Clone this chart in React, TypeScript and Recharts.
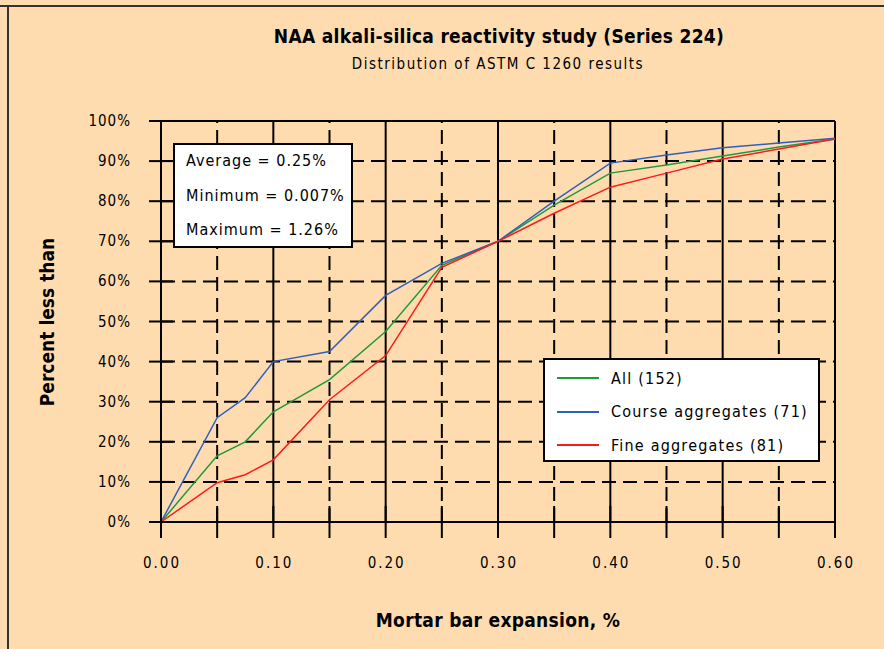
import React from "react";
import { Legend, Line, LineChart, ReferenceLine, XAxis, YAxis } from "recharts";

// ASTM C 1260 cumulative distribution
const expansion = [0, 0.05, 0.075, 0.1, 0.15, 0.2, 0.25, 0.3, 0.35, 0.4, 0.45, 0.5, 0.55, 0.6];
const allAgg = [0, 16.5, 20, 27.5, 35.5, 47.5, 64, 70, 79, 87, 89, 91.3, 93.5, 95.5];
const courseAgg = [0, 26, 31, 40, 42.5, 56.5, 64.5, 70, 80, 89.5, 91.5, 93.3, 94.5, 95.7];
const fineAgg = [0, 9.8, 11.8, 15.5, 30.5, 41.5, 63.5, 70, 77, 83.5, 87, 90.5, 93, 95.5];

const xTicks = [0, 0.05, 0.1, 0.15, 0.2, 0.25, 0.3, 0.35, 0.4, 0.45, 0.5, 0.55, 0.6];
const xLabels = ["0.00", "", "0.10", "", "0.20", "", "0.30", "", "0.40", "", "0.50", "", "0.60"];
const xMajor = [0.1, 0.2, 0.3, 0.4, 0.5, 0.6];
const xMinor = [0.05, 0.15, 0.25, 0.35, 0.45, 0.55];
const yTicks = [0, 10, 20, 30, 40, 50, 60, 70, 80, 90, 100];
const yDashed = [10, 20, 30, 40, 50, 60, 70, 80, 90];

const statLines = ["Average = 0.25%", "Minimum = 0.007%", "Maximum = 1.26%"];

const series = [
  { key: "all", name: "All (152)", color: "#1f9a3c" },
  { key: "course", name: "Course aggregates (71)", color: "#2f5fc0" },
  { key: "fine", name: "Fine aggregates (81)", color: "#ff1a1a" },
];

const data = expansion.map((x, i) => ({
  x,
  all: allAgg[i],
  course: courseAgg[i],
  fine: fineAgg[i],
}));

const FONT = '"DejaVu Sans Condensed", "DejaVu Sans", sans-serif';
const BG = "#ffdcb0";

function XTick(props: any) {
  const { x, y, index } = props;
  const label = xLabels[index] ?? "";
  return (
    <g>
      <line x1={x} x2={x} y1={y - 16} y2={y + 16} stroke="#000" strokeWidth={2} />
      {label && (
        <text x={x + 1} y={y + 46} textAnchor="middle" fontFamily={FONT} fontSize={15} letterSpacing={2} fill="#000">
          {label}
        </text>
      )}
    </g>
  );
}

function YTick(props: any) {
  const { x, y, payload } = props;
  return (
    <g>
      <line x1={x - 12} x2={x + 12} y1={y} y2={y} stroke="#000" strokeWidth={2} />
      <text x={x - 30} y={y + 5} textAnchor="end" fontFamily={FONT} fontSize={15} letterSpacing={1} fill="#000">
        {`${payload.value}%`}
      </text>
    </g>
  );
}

function LegendBox() {
  return (
    <div
      style={{
        width: 273,
        height: 100,
        background: "#fff",
        border: "2px solid #000",
        boxSizing: "content-box",
        position: "relative",
      }}
    >
      {series.map((s, i) => (
        <div
          key={s.key}
          style={{ position: "absolute", left: 12, top: 6 + i * 33.5, height: 24, display: "flex", alignItems: "center" }}
        >
          <div style={{ width: 42, height: 2, background: s.color }} />
          <span style={{ marginLeft: 12, fontFamily: FONT, fontSize: 16, letterSpacing: 1.2, color: "#000" }}>{s.name}</span>
        </div>
      ))}
    </div>
  );
}

export default function App() {
  return (
    <div
      style={{
        position: "absolute",
        left: 0,
        top: 0,
        width: 884,
        height: 649,
        background: BG,
        overflow: "hidden",
      }}
    >
      {/* frame edges */}
      <div style={{ position: "absolute", left: 0, top: 5, width: 884, height: 2, background: "#333" }} />
      <div style={{ position: "absolute", left: 7, top: 5, width: 2, height: 644, background: "#333" }} />

      <div
        style={{
          position: "absolute",
          left: 0,
          width: 998,
          top: 25,
          textAlign: "center",
          fontFamily: FONT,
          fontWeight: "bold",
          fontSize: 19,
          letterSpacing: 0.3,
          color: "#000",
        }}
      >
        NAA alkali-silica reactivity study (Series 224)
      </div>
      <div
        style={{
          position: "absolute",
          left: 0,
          width: 996,
          top: 55,
          textAlign: "center",
          fontFamily: FONT,
          fontSize: 15,
          letterSpacing: 1.5,
          color: "#000",
        }}
      >
        Distribution of ASTM C 1260 results
      </div>

      <LineChart
        width={884}
        height={649}
        data={data}
        margin={{ top: 121, right: 49, bottom: 67, left: 0 }}
        style={{ position: "absolute", left: 0, top: 0 }}
      >
        {xMinor.map((v) => (
          <ReferenceLine key={`xm${v}`} x={v} stroke="#000" strokeWidth={2} strokeDasharray="14 7" />
        ))}
        {yDashed.map((v) => (
          <ReferenceLine key={`y${v}`} y={v} stroke="#000" strokeWidth={2} strokeDasharray="14 7" />
        ))}
        {xMajor.map((v) => (
          <ReferenceLine key={`xM${v}`} x={v} stroke="#000" strokeWidth={2} />
        ))}
        <ReferenceLine y={100} stroke="#000" strokeWidth={2} />
        <XAxis
          dataKey="x"
          type="number"
          domain={[0, 0.6]}
          ticks={xTicks}
          interval={0}
          height={60}
          tickSize={0}
          tickMargin={0}
          tickLine={false}
          axisLine={{ stroke: "#000", strokeWidth: 2 }}
          tick={<XTick />}
        />
        <YAxis
          type="number"
          domain={[0, 100]}
          ticks={yTicks}
          interval={0}
          width={161}
          tickSize={0}
          tickMargin={0}
          tickLine={false}
          axisLine={{ stroke: "#000", strokeWidth: 2 }}
          tick={<YTick />}
        />
        {series.map((s) => (
          <Line
            key={s.key}
            type="linear"
            dataKey={s.key}
            name={s.name}
            stroke={s.color}
            strokeWidth={1.5}
            dot={false}
            activeDot={false}
            isAnimationActive={false}
          />
        ))}
        <Legend
          layout="vertical"
          align="center"
          verticalAlign="middle"
          wrapperStyle={{ left: 543, top: 358, width: 277, height: 104 }}
          content={() => <LegendBox />}
        />
      </LineChart>

      <div
        style={{
          position: "absolute",
          left: 173,
          top: 143,
          width: 176,
          height: 101,
          background: "#fff",
          border: "2px solid #000",
        }}
      >
        {statLines.map((t, i) => (
          <div
            key={t}
            style={{
              position: "absolute",
              left: 11,
              top: 6 + i * 34.5,
              fontFamily: FONT,
              fontSize: 16,
              letterSpacing: 1,
              color: "#000",
              whiteSpace: "nowrap",
            }}
          >
            {t}
          </div>
        ))}
      </div>

      <div
        style={{
          position: "absolute",
          left: 47,
          top: 322,
          transform: "translate(-50%, -50%) rotate(-90deg)",
          fontFamily: FONT,
          fontWeight: "bold",
          fontSize: 19,
          color: "#000",
          whiteSpace: "nowrap",
        }}
      >
        Percent less than
      </div>
      <div
        style={{
          position: "absolute",
          left: 0,
          width: 996,
          top: 609,
          textAlign: "center",
          fontFamily: FONT,
          fontWeight: "bold",
          fontSize: 19,
          letterSpacing: 0.3,
          color: "#000",
        }}
      >
        Mortar bar expansion, %
      </div>
    </div>
  );
}
